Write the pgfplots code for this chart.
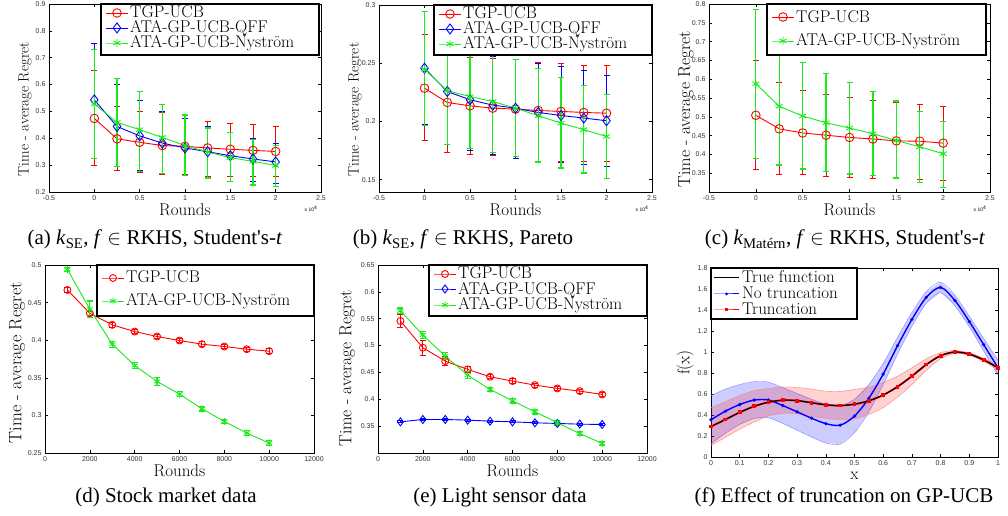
\documentclass[border=0pt]{standalone}
\usepackage{pgfplots}
\pgfplotsset{compat=1.18}
\usepackage{pgfplotstable}
\usepackage{fontspec}
\newfontfamily\helv{Liberation Sans}
\newfontfamily\capfont{Liberation Serif}
\definecolor{mred}{rgb}{1,0,0}
\definecolor{mblue}{rgb}{0,0,1}
\definecolor{mgreen}{rgb}{0.1,0.92,0.1}

\pgfplotstableread{
x r rp rm b bp bm g gp gm
0 0.474 0.177 0.175 0.543 0.211 0.219 0.528 0.204 0.202
0.25 0.398 0.120 0.119 0.444 0.155 0.150 0.459 0.165 0.164
0.5 0.385 0.115 0.112 0.409 0.132 0.127 0.432 0.142 0.155
0.75 0.373 0.124 0.106 0.382 0.118 0.112 0.403 0.124 0.133
1 0.370 0.103 0.106 0.364 0.109 0.102 0.373 0.114 0.111
1.25 0.364 0.099 0.106 0.350 0.094 0.095 0.349 0.089 0.097
1.5 0.359 0.097 0.101 0.335 0.087 0.094 0.328 0.094 0.088
1.75 0.355 0.095 0.097 0.323 0.077 0.084 0.314 0.081 0.088
2 0.351 0.093 0.093 0.312 0.070 0.080 0.299 0.074 0.079
}\tA
\pgfplotstableread{
x r rp rm b bp bm g gp gm
0 0.2286 0.0463 0.0452 0.2457 0.0486 0.0486 0.2449 0.0494 0.0486
0.25 0.2163 0.0420 0.0429 0.2257 0.0450 0.0457 0.2263 0.0460 0.0463
0.5 0.2134 0.0415 0.0420 0.2186 0.0440 0.0437 0.2214 0.0440 0.0448
0.75 0.2114 0.0423 0.0408 0.2140 0.0420 0.0420 0.2171 0.0430 0.0437
1 0.2106 0.0423 0.0406 0.2114 0.0420 0.0428 0.2114 0.0415 0.0414
1.25 0.2094 0.0412 0.0437 0.2077 0.0423 0.0420 0.2049 0.0408 0.0398
1.5 0.2086 0.0408 0.0429 0.2051 0.0420 0.0402 0.1986 0.0394 0.0386
1.75 0.2077 0.0406 0.0420 0.2029 0.0405 0.0395 0.1929 0.0377 0.0372
2 0.2071 0.0406 0.0414 0.2006 0.0388 0.0392 0.1871 0.0363 0.0362
}\tB
\pgfplotstableread{
x r rp rm g gp gm
0 0.504 0.145 0.145 0.588 0.197 0.198
0.25 0.468 0.124 0.122 0.528 0.143 0.156
0.5 0.457 0.114 0.111 0.502 0.142 0.141
0.75 0.451 0.108 0.110 0.484 0.132 0.130
1 0.445 0.106 0.106 0.470 0.122 0.122
1.25 0.441 0.103 0.104 0.455 0.113 0.111
1.5 0.436 0.101 0.099 0.437 0.105 0.100
1.75 0.435 0.098 0.101 0.420 0.095 0.094
2 0.430 0.098 0.098 0.402 0.086 0.089
}\tC
\pgfplotstableread{
x r re g ge
1000 0.4668 0.003 0.4942 0.003
2000 0.4358 0.003 0.4412 0.011
3000 0.4204 0.003 0.3947 0.004
4000 0.4115 0.003 0.3664 0.004
5000 0.4049 0.003 0.3451 0.005
6000 0.3996 0.003 0.3283 0.003
7000 0.3947 0.003 0.3088 0.003
8000 0.3916 0.003 0.2920 0.003
9000 0.3880 0.003 0.2765 0.003
10000 0.3854 0.003 0.2633 0.003
}\tD
\pgfplotstableread{
x r re b be g ge
1000 0.5457 0.012 0.3580 0.002 0.5649 0.005
2000 0.4960 0.014 0.3624 0.002 0.5196 0.006
3000 0.4711 0.009 0.3624 0.002 0.4804 0.007
4000 0.4556 0.005 0.3612 0.002 0.4450 0.006
5000 0.4419 0.004 0.3593 0.002 0.4183 0.004
6000 0.4339 0.004 0.3580 0.002 0.3972 0.004
7000 0.4264 0.004 0.3562 0.002 0.3767 0.004
8000 0.4202 0.004 0.3550 0.002 0.3562 0.004
9000 0.4152 0.004 0.3537 0.002 0.3363 0.004
10000 0.4090 0.004 0.3531 0.002 0.3177 0.004
}\tE
\pgfplotstableread{
x t tlo thi b blo bhi
0 0.290 0.110 0.470 0.355 0.125 0.585
0.05 0.357 0.187 0.527 0.436 0.226 0.646
0.1 0.425 0.265 0.585 0.500 0.310 0.690
0.15 0.482 0.332 0.632 0.542 0.367 0.717
0.2 0.522 0.392 0.652 0.543 0.373 0.713
0.25 0.541 0.416 0.666 0.490 0.320 0.660
0.3 0.537 0.412 0.662 0.430 0.255 0.605
0.35 0.517 0.387 0.647 0.370 0.190 0.550
0.4 0.497 0.367 0.627 0.318 0.133 0.503
0.45 0.490 0.355 0.625 0.303 0.123 0.483
0.5 0.503 0.363 0.643 0.390 0.230 0.550
0.55 0.535 0.405 0.665 0.560 0.430 0.690
0.6 0.590 0.470 0.710 0.790 0.690 0.890
0.65 0.670 0.570 0.770 1.060 0.980 1.140
0.7 0.770 0.690 0.850 1.310 1.245 1.375
0.75 0.880 0.825 0.935 1.520 1.465 1.575
0.8 0.965 0.935 0.995 1.615 1.565 1.665
0.85 1.000 0.988 1.012 1.490 1.440 1.540
0.9 0.980 0.968 0.992 1.290 1.240 1.340
0.95 0.925 0.910 0.940 1.070 1.010 1.130
1 0.850 0.830 0.870 0.850 0.780 0.920
}\tF
% band outlines: upper edge forward, lower edge backward
\pgfplotstableread{
x y
0 0.585
0.05 0.646
0.1 0.690
0.15 0.717
0.2 0.713
0.25 0.660
0.3 0.605
0.35 0.550
0.4 0.503
0.45 0.483
0.5 0.550
0.55 0.690
0.6 0.890
0.65 1.140
0.7 1.375
0.75 1.575
0.8 1.665
0.85 1.540
0.9 1.340
0.95 1.130
1 0.920
1 0.780
0.95 1.010
0.9 1.240
0.85 1.440
0.8 1.565
0.75 1.465
0.7 1.245
0.65 0.980
0.6 0.690
0.55 0.430
0.5 0.230
0.45 0.123
0.4 0.133
0.35 0.190
0.3 0.255
0.25 0.320
0.2 0.373
0.15 0.367
0.1 0.310
0.05 0.226
0 0.125
}\tFb
\pgfplotstableread{
x y
0 0.470
0.05 0.527
0.1 0.585
0.15 0.632
0.2 0.652
0.25 0.666
0.3 0.662
0.35 0.647
0.4 0.627
0.45 0.625
0.5 0.643
0.55 0.665
0.6 0.710
0.65 0.770
0.7 0.850
0.75 0.935
0.8 0.995
0.85 1.012
0.9 0.992
0.95 0.940
1 0.870
1 0.830
0.95 0.910
0.9 0.968
0.85 0.988
0.8 0.935
0.75 0.825
0.7 0.690
0.65 0.570
0.6 0.470
0.55 0.405
0.5 0.363
0.45 0.355
0.4 0.367
0.35 0.387
0.3 0.412
0.25 0.416
0.2 0.392
0.15 0.332
0.1 0.265
0.05 0.187
0 0.110
}\tFr

\newcommand\legfont{\fontsize{17}{17}\selectfont}
\newcommand\labfont{\fontsize{17}{17}\selectfont}
\tikzset{ltext/.style={anchor=base west, font=\legfont, inner sep=0pt}}
\pgfplotsset{
  every axis x label/.style={at={(axis description cs:0.5,0)}, anchor=center, yshift=-17.5pt, font=\labfont},
  every axis y label/.style={rotate=90, anchor=center, font=\labfont},
  base/.style={scale only axis, axis line style={line width=0.7pt},
    every tick/.style={black, line width=0.5pt}, major tick length=3pt,
    ticklabel style={font=\helv\fontsize{7}{8}\selectfont, text=black!80},
    /pgf/number format/assume math mode=true, /pgf/number format/1000 sep={},
    scaled ticks=false},
  ebars/.style={/pgfplots/error bars/y dir=both, /pgfplots/error bars/y explicit,
    /pgfplots/error bars/error bar style={line width=#1, solid},
    /pgfplots/error bars/error mark options={rotate=90, line width=#1, mark size=3pt, solid}},
  rl/.style={mred, line width=0.9pt, mark=o, mark size=#1, mark options={solid, line width=0.9pt}},
  bl/.style={mblue, line width=0.9pt, mark=diamond, mark size=#1, mark options={solid, line width=0.9pt}},
  gl/.style={mgreen, line width=0.9pt, mark=asterisk, mark size=#1, mark options={solid, line width=0.9pt}},
  rs/.style={rl=#1, ebars=0.9pt},
  bs/.style={bl=#1, ebars=0.9pt},
  gs/.style={gl=#1, ebars=1.2pt},
  legax/.style={scale only axis, anchor=south west, xmin=0, ymin=0, ticks=none, clip=false,
    axis line style={line width=1.2pt}, axis background/.style={fill=white}},
}

\begin{document}
\begin{tikzpicture}

% (a)
\begin{axis}[base, at={(49pt,324pt)}, anchor=south west, width=272pt, height=188pt,
  xmin=-0.5, xmax=2.5, ymin=0.2, ymax=0.9,
  xtick={-0.5,0,0.5,1,1.5,2,2.5}, ytick={0.2,0.3,0.4,0.5,0.6,0.7,0.8,0.9},
  xlabel={Rounds}, ylabel={Time - average Regret},
  ylabel style={font=\fontsize{15}{15}\selectfont, at={(axis description cs:-0.088,0.44)}},
  extra description/.code={\node[font=\helv\fontsize{5}{6}\selectfont, anchor=east] at (1,0) [yshift=-17pt] {x 10\textsuperscript{4}};}]
\addplot[rs=4.3pt] table[x=x,y=r,y error plus=rp,y error minus=rm]{\tA};
\addplot[bs=5pt] table[x=x,y=b,y error plus=bp,y error minus=bm]{\tA};
\addplot[gs=4pt] table[x=x,y=g,y error plus=gp,y error minus=gm]{\tA};
\end{axis}

% (b)
\begin{axis}[base, at={(379pt,324pt)}, anchor=south west, width=273pt, height=187pt,
  xmin=-0.5, xmax=2.5, ymin=0.1394, ymax=0.3,
  xtick={-0.5,0,0.5,1,1.5,2,2.5}, ytick={0.15,0.2,0.25,0.3},
  xlabel={Rounds}, ylabel={Time - average Regret},
  ylabel style={font=\fontsize{15}{15}\selectfont, at={(axis description cs:-0.088,0.44)}},
  extra description/.code={\node[font=\helv\fontsize{5}{6}\selectfont, anchor=east] at (1,0) [yshift=-17pt] {x 10\textsuperscript{4}};}]
\addplot[rs=4.3pt] table[x=x,y=r,y error plus=rp,y error minus=rm]{\tB};
\addplot[bs=5pt] table[x=x,y=b,y error plus=bp,y error minus=bm]{\tB};
\addplot[gs=4pt] table[x=x,y=g,y error plus=gp,y error minus=gm]{\tB};
\end{axis}

% (c)
\begin{axis}[base, at={(709pt,324pt)}, anchor=south west, width=281pt, height=188pt,
  xmin=-0.5, xmax=2.5, ymin=0.3, ymax=0.8,
  xtick={-0.5,0,0.5,1,1.5,2,2.5}, ytick={0.35,0.4,0.45,0.5,0.55,0.6,0.65,0.7,0.75,0.8},
  xlabel={Rounds}, ylabel={Time - average Regret},
  ylabel style={font=\fontsize{17.5}{17.5}\selectfont, at={(axis description cs:-0.082,0.44)}},
  extra description/.code={\node[font=\helv\fontsize{5}{6}\selectfont, anchor=east] at (1,0) [yshift=-17pt] {x 10\textsuperscript{4}};}]
\addplot[rs=4.3pt] table[x=x,y=r,y error plus=rp,y error minus=rm]{\tC};
\addplot[gs=4pt] table[x=x,y=g,y error plus=gp,y error minus=gm]{\tC};
\end{axis}

% (d)
\begin{axis}[base, at={(45pt,63pt)}, anchor=south west, width=269pt, height=188pt,
  xmin=0, xmax=12000, ymin=0.25, ymax=0.5,
  xtick={0,2000,4000,6000,8000,10000,12000}, ytick={0.25,0.3,0.35,0.4,0.45,0.5},
  xlabel={Rounds}, ylabel={Time - average Regret},
  ylabel style={font=\fontsize{18}{18}\selectfont, at={(axis description cs:-0.104,0.48)}}]
\addplot[rs=3.5pt] table[x=x,y=r,y error=re]{\tD};
\addplot[gs=3.5pt] table[x=x,y=g,y error=ge]{\tD};
\end{axis}

% (e)
\begin{axis}[base, at={(378pt,63pt)}, anchor=south west, width=269pt, height=188pt,
  xmin=0, xmax=12000, ymin=0.3, ymax=0.65,
  xtick={0,2000,4000,6000,8000,10000,12000}, ytick={0.35,0.4,0.45,0.5,0.55,0.6,0.65},
  xlabel={Rounds}, ylabel={Time - average Regret},
  ylabel style={font=\fontsize{17.5}{17.5}\selectfont, at={(axis description cs:-0.115,0.45)}}]
\addplot[rs=3.5pt] table[x=x,y=r,y error=re]{\tE};
\addplot[bs=4pt] table[x=x,y=b,y error=be]{\tE};
\addplot[gs=3.5pt] table[x=x,y=g,y error=ge]{\tE};
\end{axis}

% (f)
\begin{axis}[base, at={(711pt,59pt)}, anchor=south west, width=287pt, height=189pt,
  xmin=0, xmax=1, ymin=0, ymax=1.8,
  xtick={0,0.1,0.2,0.3,0.4,0.5,0.6,0.7,0.8,0.9,1}, ytick={0,0.2,0.4,0.6,0.8,1,1.2,1.4,1.6,1.8},
  xlabel={x}, ylabel={f(x)},
  xlabel style={yshift=-1.5pt},
  ylabel style={at={(axis description cs:-0.09,0.5)}}]
\addplot[fill=mblue, fill opacity=0.2, draw=none] table[x=x,y=y]{\tFb} -- cycle;
\addplot[draw=mblue!50, line width=0.4pt, smooth] table[x=x,y=bhi]{\tF};
\addplot[draw=mblue!50, line width=0.4pt, smooth] table[x=x,y=blo]{\tF};
\addplot[fill=mred, fill opacity=0.18, draw=none] table[x=x,y=y]{\tFr} -- cycle;
\addplot[draw=mred!50, line width=0.4pt, smooth] table[x=x,y=thi]{\tF};
\addplot[draw=mred!50, line width=0.4pt, smooth] table[x=x,y=tlo]{\tF};
\addplot[mblue, line width=1.4pt, smooth, mark=*, mark size=0.8pt] table[x=x,y=b]{\tF};
\addplot[mred, line width=1.8pt, smooth, mark=square*, mark size=1pt] table[x=x,y=t]{\tF};
\addplot[black, line width=1.1pt, smooth] table[x=x,y=t]{\tF};
\end{axis}

% ---- legends (each a small framed axis) ----
% (a)
\begin{axis}[legax, at={(101pt,461pt)}, width=218pt, height=51pt, xmax=218, ymax=51]
\addplot[rl=4.3pt, mark repeat=2, mark phase=2] coordinates {(5,42) (16,42) (27,42)};
\addplot[bl=5pt, mark repeat=2, mark phase=2] coordinates {(5,27) (16,27) (27,27)};
\addplot[gl=4pt, mark repeat=2, mark phase=2] coordinates {(5,12) (16,12) (27,12)};
\node[ltext] at (axis cs:29,37) {TGP-UCB};
\node[ltext] at (axis cs:29,22) {ATA-GP-UCB-QFF};
\node[ltext] at (axis cs:29,7) {ATA-GP-UCB-Nyström};
\end{axis}
% (b)
\begin{axis}[legax, at={(434pt,461pt)}, width=218pt, height=50pt, xmax=218, ymax=50]
\addplot[rl=4.3pt, mark repeat=2, mark phase=2] coordinates {(5,41) (16,41) (27,41)};
\addplot[bl=5pt, mark repeat=2, mark phase=2] coordinates {(5,26) (16,26) (27,26)};
\addplot[gl=4pt, mark repeat=2, mark phase=2] coordinates {(5,11) (16,11) (27,11)};
\node[ltext] at (axis cs:29,36) {TGP-UCB};
\node[ltext] at (axis cs:29,21) {ATA-GP-UCB-QFF};
\node[ltext] at (axis cs:29,6) {ATA-GP-UCB-Nyström};
\end{axis}
% (c)
\begin{axis}[legax, at={(767pt,461pt)}, width=219pt, height=51pt, xmax=219, ymax=51]
\addplot[rl=4.3pt, mark repeat=2, mark phase=2] coordinates {(5,38) (16,38) (27,38)};
\addplot[gl=4pt, mark repeat=2, mark phase=2] coordinates {(5,14) (16,14) (27,14)};
\node[ltext] at (axis cs:29,32) {TGP-UCB};
\node[ltext] at (axis cs:29,9) {ATA-GP-UCB-Nyström};
\end{axis}
% (d)
\begin{axis}[legax, at={(97pt,200pt)}, width=217pt, height=51pt, xmax=217, ymax=51]
\addplot[rl=3.5pt, mark repeat=2, mark phase=2] coordinates {(5,38) (16,38) (27,38)};
\addplot[gl=3.5pt, mark repeat=2, mark phase=2] coordinates {(5,15) (16,15) (27,15)};
\node[ltext] at (axis cs:29,33) {TGP-UCB};
\node[ltext] at (axis cs:29,10) {ATA-GP-UCB-Nyström};
\end{axis}
% (e)
\begin{axis}[legax, at={(429pt,200pt)}, width=218pt, height=51pt, xmax=218, ymax=51]
\addplot[rl=3.5pt, mark repeat=2, mark phase=2] coordinates {(5,42) (16,42) (27,42)};
\addplot[bl=4pt, mark repeat=2, mark phase=2] coordinates {(5,27) (16,27) (27,27)};
\addplot[gl=3.5pt, mark repeat=2, mark phase=2] coordinates {(5,11) (16,11) (27,11)};
\node[ltext] at (axis cs:29,37) {TGP-UCB};
\node[ltext] at (axis cs:29,21) {ATA-GP-UCB-QFF};
\node[ltext] at (axis cs:29,6) {ATA-GP-UCB-Nyström};
\end{axis}
% (f)
\begin{axis}[legax, at={(711pt,197pt)}, width=146pt, height=51pt, xmax=146, ymax=51]
\addplot[black, line width=1pt] coordinates {(3,41) (28,41)};
\addplot[mblue, line width=1pt, mark=*, mark size=0.8pt, mark repeat=2, mark phase=2] coordinates {(3,25) (15.5,25) (28,25)};
\addplot[mred, line width=1pt, mark=square*, mark size=1pt, mark repeat=2, mark phase=2] coordinates {(3,9) (15.5,9) (28,9)};
\node[ltext] at (axis cs:31,36) {True function};
\node[ltext] at (axis cs:31,20) {No truncation};
\node[ltext] at (axis cs:31,4) {Truncation};
\end{axis}

% captions
\node[font=\capfont\fontsize{21}{21}\selectfont, anchor=base] at (155pt,271pt) {(a) \textit{k}\textsubscript{SE}, \textit{f} $\in$ RKHS, Student's-\textit{t}};
\node[font=\capfont\fontsize{21}{21}\selectfont, anchor=base] at (463pt,271pt) {(b) \textit{k}\textsubscript{SE}, \textit{f} $\in$ RKHS, Pareto};
\node[font=\capfont\fontsize{21}{21}\selectfont, anchor=base] at (845pt,271pt) {(c) \textit{k}\textsubscript{Matérn}, \textit{f} $\in$ RKHS, Student's-\textit{t}};
\node[font=\capfont\fontsize{21}{21}\selectfont, anchor=base] at (166pt,13pt) {(d) Stock market data};
\node[font=\capfont\fontsize{21}{21}\selectfont, anchor=base] at (500pt,13pt) {(e) Light sensor data};
\node[font=\capfont\fontsize{21}{21}\selectfont, anchor=base] at (844pt,13pt) {(f) Effect of truncation on GP-UCB};

\pgfresetboundingbox
\path (0pt,0pt) rectangle (1008pt,516pt);
\end{tikzpicture}
\end{document}
